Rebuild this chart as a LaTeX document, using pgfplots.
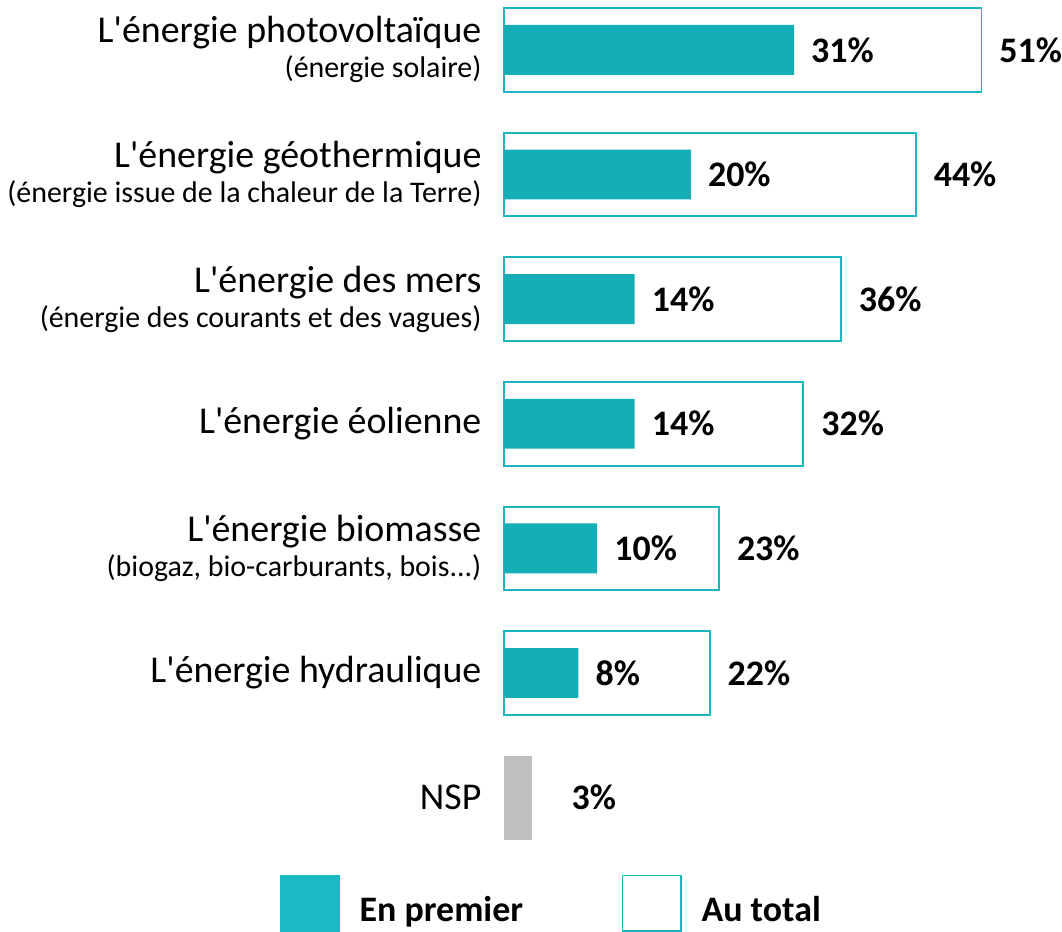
\documentclass[border=0pt]{standalone}
\usepackage{fontspec}
\setmainfont{Carlito}[Ligatures=TeXOff]
\usepackage{pgfplots}
\pgfplotsset{compat=1.18}
\definecolor{tealA}{HTML}{14AFB6}
\definecolor{tealB}{HTML}{1BB7C0}
\definecolor{tealL}{HTML}{1ABBC4}
\definecolor{grayN}{HTML}{BFBFBF}
\newcommand{\mainl}[1]{{\fontsize{38}{44}\selectfont #1}}
\newcommand{\subl}[1]{{\fontsize{30}{35}\selectfont #1}}
\begin{document}
\begin{tikzpicture}
\begin{axis}[
  x=9.4pt, y=125pt, y dir=reverse,
  xmin=0, xmax=59.2, ymin=-0.4, ymax=6.4,
  axis line style={draw=none},
  xtick=\empty,
  ytick={0,1,2,3,4,5,6},
  yticklabels={
    {\mainl{L'énergie photovoltaïque}\\\subl{(énergie solaire)}},
    {\mainl{L'énergie géothermique}\\\subl{(énergie issue de la chaleur de la Terre)}},
    {\mainl{L'énergie des mers}\\\subl{(énergie des courants et des vagues)}},
    {\mainl{L'énergie éolienne}},
    {\mainl{L'énergie biomasse}\\\subl{(biogaz, bio-carburants, bois...)}},
    {\mainl{L'énergie hydraulique}},
    {\mainl{NSP}}
  },
  major tick length=0pt,
  yticklabel style={align=right, inner sep=0pt, anchor=east, xshift=-22pt, font=\fontsize{30}{35}\selectfont},
  clip=false,
  legend style={at={(-0.404,-0.0318)}, anchor=north west, draw=none, fill=none,
    inner sep=0pt, legend columns=2,
    font=\fontsize{36}{40}\selectfont\bfseries,
    /tikz/every odd column/.append style={column sep=20pt},
    /tikz/every even column/.append style={column sep=99pt},
    nodes={inner sep=0pt}},
  legend cell align=left,
  nodes near coords={\pgfmathprintnumber[assume math mode=true]{\pgfplotspointmeta}\%},
  point meta=x,
]
\addlegendimage{legend image code/.code={\fill[tealL] (0pt,-22pt) rectangle (60pt,35pt);}}
\addlegendentry{En premier}
\addlegendimage{legend image code/.code={\draw[tealB, line width=1.5pt] (0.75pt,-21.25pt) rectangle (59.25pt,34.25pt);}}
\addlegendentry{Au total}

\addplot[xbar, bar shift=0pt, bar width=84pt, draw=tealB, line width=2pt, fill=white, forget plot,
  every node near coord/.append style={anchor=west, xshift=17pt, inner sep=0pt,
    font=\fontsize{36}{40}\selectfont\bfseries, text=black}]
  coordinates {(51,0) (44,1) (36,2) (32,3) (23,4) (22,5)};
\addplot[xbar, bar shift=0pt, bar width=50pt, draw=none, fill=tealA, forget plot,
  every node near coord/.append style={anchor=west, xshift=17pt, inner sep=0pt,
    font=\fontsize{36}{40}\selectfont\bfseries, text=black}]
  coordinates {(31,0) (20,1) (14,2) (14,3) (10,4) (8,5)};
\addplot[xbar, bar shift=0pt, bar width=84pt, draw=none, fill=grayN, forget plot,
  every node near coord/.append style={anchor=west, xshift=40pt, inner sep=0pt,
    font=\fontsize{36}{40}\selectfont\bfseries, text=black}]
  coordinates {(3,6)};
\end{axis}
\path (current axis.south west) ++(-505pt,0pt);
\end{tikzpicture}
\end{document}
